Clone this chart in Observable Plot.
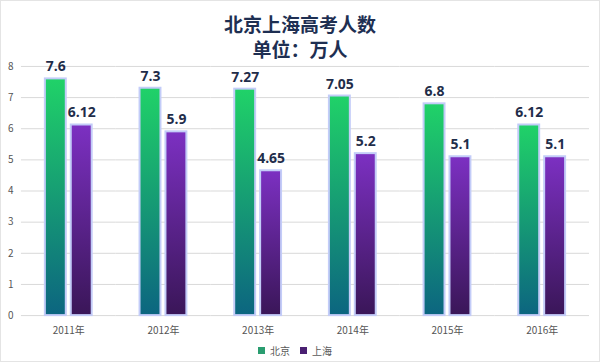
<!DOCTYPE html>
<html>
<head>
<meta charset="utf-8">
<script src="https://cdn.jsdelivr.net/npm/d3@7"></script>
<script src="https://cdn.jsdelivr.net/npm/@observablehq/plot@0.6"></script>
<style>
  html, body { margin: 0; padding: 0; background: #fff; }
  #wrap { position: relative; width: 600px; height: 362px; box-sizing: border-box; border: 1px solid #e4e4e4; overflow: hidden; font-family: "Noto Sans CJK SC", "Noto Sans", sans-serif; }
  .title { position: absolute; left: 0; width: 100%; text-align: center; font-size: 19px; font-weight: 700; color: #1e2f52; line-height: 24px; white-space: nowrap; }
  #t1 { top: 11px; }
  #t2 { top: 36px; }
  #chart { position: absolute; left: 0; top: 47px; }
  #legend { position: absolute; left: 0; width: 100%; top: 333px; display: flex; justify-content: center; }
</style>
</head>
<body>
<div id="wrap">
  <div class="title" id="t1">北京上海高考人数</div>
  <div class="title" id="t2">单位：万人</div>
  <div id="chart"></div>
  <div id="legend"></div>
</div>
<script>
const years = ["2011年", "2012年", "2013年", "2014年", "2015年", "2016年"];
const series = ["北京", "上海"];
const beijing = [7.6, 7.3, 7.27, 7.05, 6.8, 6.12];
const shanghai = [6.12, 5.9, 4.65, 5.2, 5.1, 5.1];
const yTicks = [0, 1, 2, 3, 4, 5, 6, 7, 8];

const data = [];
years.forEach((yr, i) => {
  data.push({year: yr, series: series[0], value: beijing[i]});
  data.push({year: yr, series: series[1], value: shanghai[i]});
});

const gradDefs = () => {
  const ns = "http://www.w3.org/2000/svg";
  const defs = document.createElementNS(ns, "defs");
  const mk = (id, top, bottom) => {
    const g = document.createElementNS(ns, "linearGradient");
    g.setAttribute("id", id);
    g.setAttribute("x1", "0"); g.setAttribute("y1", "0");
    g.setAttribute("x2", "0"); g.setAttribute("y2", "1");
    [[0, top], [1, bottom]].forEach(([o, c]) => {
      const s = document.createElementNS(ns, "stop");
      s.setAttribute("offset", o);
      s.setAttribute("stop-color", c);
      g.appendChild(s);
    });
    defs.appendChild(g);
  };
  mk("gBJ", "#20d268", "#0c6580");
  mk("gSH", "#7c30c2", "#3a1658");
  return defs;
};

const chart = Plot.plot({
  width: 600,
  height: 293,
  marginTop: 18,
  marginBottom: 25,
  marginLeft: 18,
  marginRight: 8,
  style: {fontFamily: "'Noto Sans CJK SC', 'Noto Sans', sans-serif", background: "transparent", color: "#555", overflow: "visible"},
  fx: {domain: years, padding: 0, label: null, axis: "bottom", tickSize: 0, tickPadding: 11, fontSize: 9},
  x: {domain: series, paddingInner: 0.185, paddingOuter: 0.86, axis: null},
  y: {domain: [0, 8], ticks: yTicks, axis: "left", tickSize: 0, tickPadding: 8, label: null, fontSize: 8},
  color: {domain: series, range: ["url(#gBJ)", "url(#gSH)"]},
  marks: [
    gradDefs,
    Plot.gridY(yTicks, {stroke: "#d9d9d9", strokeOpacity: 1, strokeWidth: 1}),
    Plot.barY(data, {fx: "year", x: "series", y: "value", fill: "series", stroke: "#c3ccf8", strokeWidth: 2}),
    Plot.text(data, {fx: "year", x: "series", y: "value", text: d => String(d.value), dy: -12, fill: "#1f2d4a", fontSize: 14, fontWeight: "bold", fontFamily: "'Open Sans', sans-serif"})
  ]
});
document.getElementById("chart").appendChild(chart);

const legend = Plot.legend({
  color: {domain: series, range: ["#2a9d70", "#4a2072"]},
  swatchSize: 7,
  style: {fontSize: "10px", color: "#595959", fontFamily: "'Noto Sans CJK SC', sans-serif"}
});
document.getElementById("legend").appendChild(legend);
</script>
</body>
</html>
